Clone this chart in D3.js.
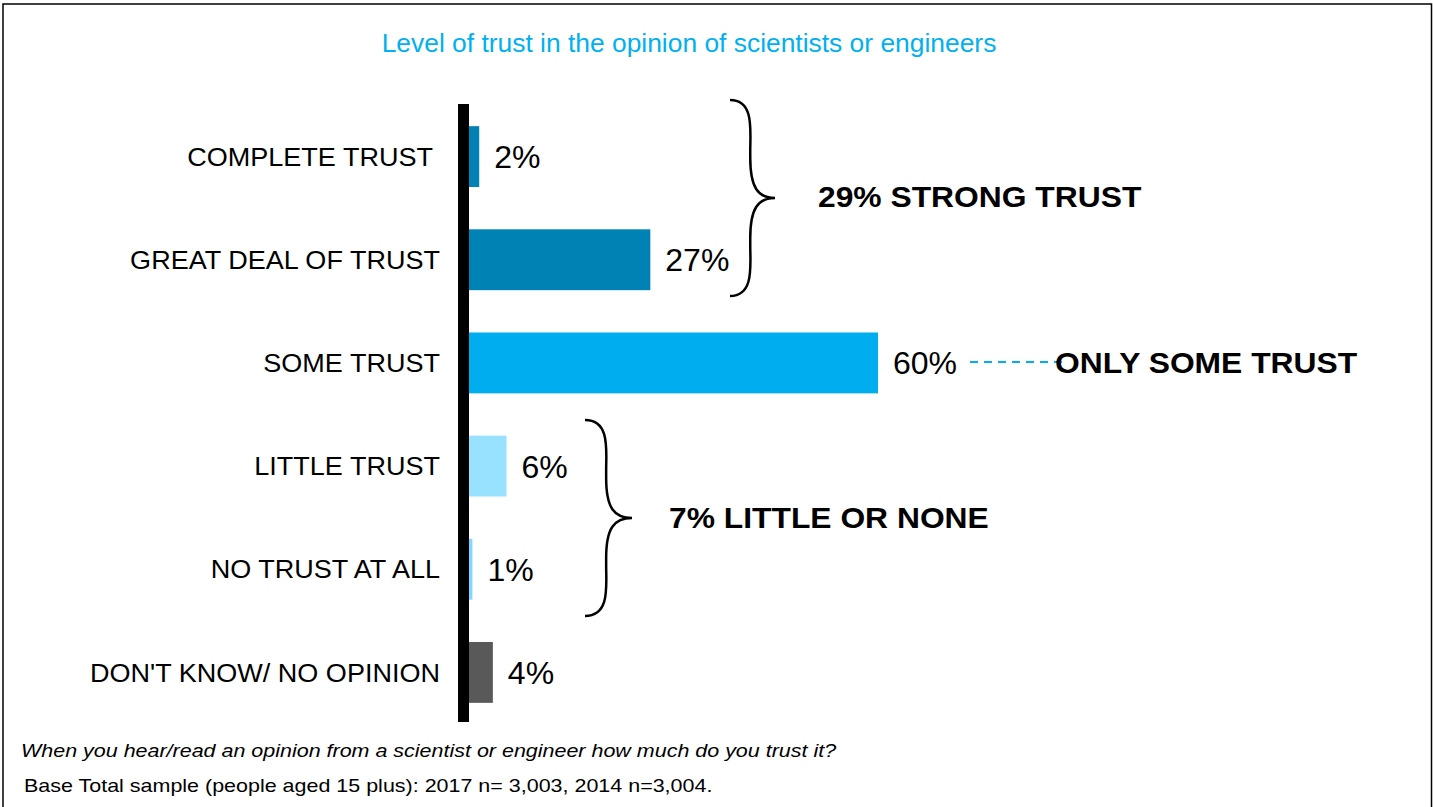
<!DOCTYPE html>
<html>
<head>
<meta charset="utf-8">
<script src="https://cdn.jsdelivr.net/npm/d3@7"></script>
<style>
  html, body { margin: 0; padding: 0; background: #fff; }
  svg { display: block; font-family: "Liberation Sans", Arial, sans-serif; }
  .tick text { white-space: pre; }
</style>
</head>
<body>
<svg id="chart" width="1433" height="807"></svg>
<script>
const categories = ["COMPLETE TRUST ", "GREAT DEAL OF TRUST", "SOME TRUST", "LITTLE TRUST", "NO TRUST AT ALL", "DON'T KNOW/ NO OPINION"];
const values = [1.5, 26.6, 60, 5.5, 0.5, 3.5];
const valueLabels = ["2%", "27%", "60%", "6%", "1%", "4%"];
const barColors = ["#0083B4", "#0083B4", "#00AEEF", "#99E2FF", "#7FD8FF", "#595959"];
const title = "Level of trust in the opinion of scientists or engineers";
const groupLabels = ["29% STRONG TRUST", "ONLY SOME TRUST", "7% LITTLE OR NONE"];
const footnotes = ["When you hear/read an opinion from a scientist or engineer how much do you trust it?",
                   "Base Total sample (people aged 15 plus): 2017 n= 3,003, 2014 n=3,004."];

const svg = d3.select("#chart");

function stretch(sel, k) {
  sel.each(function () {
    const w = this.getComputedTextLength();
    d3.select(this).attr("textLength", w * k).attr("lengthAdjust", "spacingAndGlyphs");
  });
}

// frame
svg.append("rect").attr("x", 3).attr("y", 4).attr("width", 1428.5).attr("height", 820)
  .attr("fill", "none").attr("stroke", "#000").attr("stroke-width", 1.5);

const x0 = 469;
const x = d3.scaleLinear().domain([0, 60]).range([x0, 878]);
const y = d3.scaleBand().domain(categories).range([105, 724]).paddingInner(0.41).paddingOuter(0.205);

// title
svg.append("text").attr("x", 689).attr("y", 52).attr("text-anchor", "middle")
  .attr("font-size", 26.4).attr("fill", "#00B0F0").text(title);

// bars
svg.selectAll("rect.bar").data(categories).enter().append("rect").attr("class", "bar")
  .attr("x", x(0)).attr("y", d => y(d))
  .attr("width", (d, i) => x(values[i]) - x(0))
  .attr("height", y.bandwidth())
  .attr("fill", (d, i) => barColors[i]);

// axis (category labels)
const yAxis = d3.axisLeft(y).tickSize(0).tickPadding(0);
const axisG = svg.append("g").attr("transform", "translate(440,0)").call(yAxis);
axisG.select(".domain").remove();
const catText = axisG.selectAll("text").attr("font-size", 25.5).attr("fill", "#000")
  .attr("font-family", "Liberation Sans, Arial, sans-serif").attr("dy", "0.36em")
  .attr("xml:space", "preserve");
stretch(catText, 1.06);

// thick vertical axis line
svg.append("rect").attr("x", 458).attr("y", 104).attr("width", 11).attr("height", 618).attr("fill", "#000");

// value labels
svg.selectAll("text.val").data(categories).enter().append("text").attr("class", "val")
  .attr("x", (d, i) => x(values[i]) + 15)
  .attr("y", d => y(d) + y.bandwidth() / 2)
  .attr("dy", "0.36em")
  .attr("font-size", 32).attr("fill", "#000")
  .text((d, i) => valueLabels[i]);

// braces
function brace(xl, yt, yb, w) {
  const ym = (yt + yb) / 2;
  const xm = xl + w * 0.45;
  return `M${xl},${yt} C${xm + 4},${yt} ${xm},${yt + 30} ${xm},${yt + 50} L${xm},${ym - 40} C${xm},${ym - 10} ${xm + 8},${ym} ${xl + w},${ym}`
    + ` C${xm + 8},${ym} ${xm},${ym + 10} ${xm},${ym + 40} L${xm},${yb - 50} C${xm},${yb - 30} ${xm + 4},${yb} ${xl},${yb}`;
}
svg.append("path").attr("d", brace(730, 100, 296, 45)).attr("fill", "none").attr("stroke", "#000").attr("stroke-width", 2.5);
svg.append("path").attr("d", brace(585, 420, 616, 47)).attr("fill", "none").attr("stroke", "#000").attr("stroke-width", 2.5);

// dashed connector
svg.append("line").attr("x1", 970).attr("x2", 1062).attr("y1", 362).attr("y2", 362)
  .attr("stroke", "#00B0F0").attr("stroke-width", 2).attr("stroke-dasharray", "8,6");

// group labels
const glPos = [[818, 207], [1055, 373], [669, 528]];
const grp = svg.selectAll("text.grp").data(groupLabels).enter().append("text").attr("class", "grp")
  .attr("x", (d, i) => glPos[i][0]).attr("y", (d, i) => glPos[i][1])
  .attr("font-size", 30).attr("font-weight", "bold").attr("fill", "#000").text(d => d);
stretch(grp, 1.06);

// footnotes
const f1 = svg.append("text").attr("x", 21).attr("y", 757).attr("font-size", 19).attr("font-style", "italic").text(footnotes[0]);
const f2 = svg.append("text").attr("x", 24).attr("y", 792).attr("font-size", 19).text(footnotes[1]);
stretch(f1, 1.13);
stretch(f2, 1.13);
</script>
</body>
</html>
